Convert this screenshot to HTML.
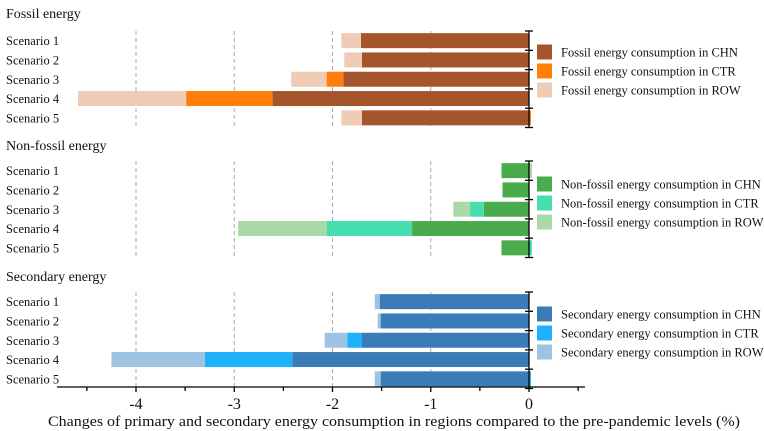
<!DOCTYPE html>
<html><head><meta charset="utf-8"><style>
html,body{margin:0;padding:0;background:#fff;width:764px;height:431px;overflow:hidden}
svg text{font-family:"Liberation Serif",serif;fill:#111}
</style></head><body>
<svg id="chart" width="764" height="431"></svg>
<script>
const scenarios=["Scenario 1","Scenario 2","Scenario 3","Scenario 4","Scenario 5"];
const fossilCHN=[-1.71,-1.70,-1.89,-2.61,-1.70];
const fossilCTR=[0,0,-0.17,-0.88,0.02];
const fossilROW=[-0.20,-0.18,-0.36,-1.10,-0.21];
const nonfossilCHN=[-0.28,-0.27,-0.46,-1.19,-0.28];
const nonfossilCTR=[0,0,-0.14,-0.87,0.03];
const nonfossilROW=[0.03,0,-0.17,-0.90,0];
const secondaryCHN=[-1.52,-1.51,-1.70,-2.41,-1.51];
const secondaryCTR=[0,0,-0.15,-0.89,0.02];
const secondaryROW=[-0.05,-0.03,-0.23,-0.95,-0.06];
const xTicks=[-4,-3,-2,-1,0];
const xMinor=[-4.5,-3.5,-2.5,-1.5,-0.5,0.5];
const gridVals=[-4,-3,-2,-1];

const NS="http://www.w3.org/2000/svg";
const svg=document.getElementById('chart');
const X=v=>529+v*98.25;
function el(tag,attrs,parent){const e=document.createElementNS(NS,tag);for(const k in attrs)e.setAttribute(k,attrs[k]);(parent||svg).appendChild(e);return e;}

const panels=[
 {title:"Fossil energy",titleY:18,top:31,name:"fossil",series:[fossilCHN,fossilCTR,fossilROW],colors:["#a5552b","#ff7f0a","#f0cbb6"],labels:["Fossil energy consumption in CHN","Fossil energy consumption in CTR","Fossil energy consumption in ROW"],legY:52},
 {title:"Non-fossil energy",titleY:150,top:161,name:"nonfossil",series:[nonfossilCHN,nonfossilCTR,nonfossilROW],colors:["#4aab4c","#46deb0","#a9d9a6"],labels:["Non-fossil energy consumption in CHN","Non-fossil energy consumption in CTR","Non-fossil energy consumption in ROW"],legY:184},
 {title:"Secondary energy",titleY:281,top:292,name:"secondary",series:[secondaryCHN,secondaryCTR,secondaryROW],colors:["#3a7bb8","#1fb1fa","#9ec3e3"],labels:["Secondary energy consumption in CHN","Secondary energy consumption in CTR","Secondary energy consumption in ROW"],legY:314}
];
const rowH=19.3, barH=15;
panels.forEach((p,pi)=>{
  const g=el('g',{});
  
  
  const t=el('text',{x:6,y:p.titleY,'font-size':14},g);t.textContent=p.title;
  
  
  const bottom=p.top+rowH*5;
  gridVals.forEach(v=>{
    const l=el('line',{x1:X(v),x2:X(v),y1:p.top,y2:bottom,stroke:'#aaa','stroke-dasharray':'4,3','stroke-width':1},g);
    
    
  });
  scenarios.forEach((s,i)=>{
    const cy=p.top+rowH*i+rowH/2;
    const lab=el('text',{x:6,y:cy+4.5,'font-size':12.5},g);lab.textContent=s;
    
    
    let neg=0,pos=0;
    p.series.forEach((arr,si)=>{
      const v=arr[i];if(!v)return;
      let x0,x1;
      if(v<0){x0=X(neg+v);x1=X(neg);neg+=v;}else{x0=X(pos);x1=X(pos+v);pos+=v;}
      const r=el('rect',{x:x0,y:cy-barH/2,width:Math.max(x1-x0,0.5),height:barH,fill:p.colors[si]},g);
      
      
    });
  });
  const ax=el('line',{x1:X(0),x2:X(0),y1:p.top,y2:bottom,stroke:'#000','stroke-width':1.3},g);
  
  
  for(let k=0;k<=5;k++){
    const tk=el('line',{x1:X(0)-4,x2:X(0)+4,y1:p.top+rowH*k,y2:p.top+rowH*k,stroke:'#000','stroke-width':1.3},g);
    
    
  }
  p.labels.forEach((L,li)=>{
    const y=p.legY+li*19;
    const sq=el('rect',{x:537,y:y-7.5,width:15,height:15,fill:p.colors[li]},g);
    
    
    const tx=el('text',{x:561,y:y+4.5,'font-size':12.5},g);tx.textContent=L;
    
    
  });
});
const xa=el('line',{x1:57,x2:585,y1:387,y2:387,stroke:'#000','stroke-width':1.3});


xTicks.forEach(v=>{
  const l=el('line',{x1:X(v),x2:X(v),y1:387,y2:392,stroke:'#000','stroke-width':1.3});
  
  
  const t=el('text',{x:X(v),y:409,'font-size':16,'text-anchor':'middle'});t.textContent=v===0?'0':String(v);
  
  
});
xMinor.forEach(v=>{
  const l=el('line',{x1:X(v),x2:X(v),y1:387,y2:391,stroke:'#000','stroke-width':1.3});
  
  
});
const xt=el('text',{x:48,y:426,'font-size':15,textLength:692,lengthAdjust:'spacingAndGlyphs'});
xt.textContent='Changes of primary and secondary energy consumption in regions compared to the pre-pandemic levels (%)';


</script>
</body></html>
